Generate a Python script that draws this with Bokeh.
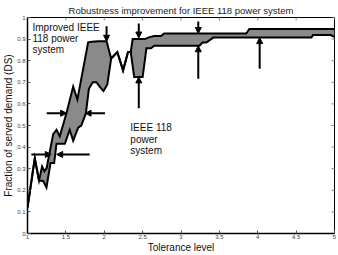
import math
from bokeh.plotting import figure
from bokeh.models import Range1d, FixedTicker, Arrow, NormalHead, Label
from bokeh.embed import file_html
from bokeh.resources import INLINE

FONT = "Liberation Sans"

# ---- data ----
upper_x = [1.0, 1.095, 1.15, 1.19, 1.22, 1.25, 1.28, 1.335, 1.378, 1.42, 1.465, 1.51,
           1.595, 1.65, 1.79, 1.84, 1.92, 2.03, 2.09, 2.17, 2.245, 2.31, 2.345, 2.37,
           2.53, 2.57, 2.65, 2.74, 2.78, 3.85, 3.89, 5.0]
upper_y = [0.12, 0.348, 0.245, 0.31, 0.288, 0.303, 0.36, 0.46, 0.48, 0.45, 0.505, 0.56,
           0.68, 0.62, 0.885, 0.888, 0.89, 0.89, 0.81, 0.84, 0.755, 0.84, 0.84, 0.90,
           0.90, 0.907, 0.914, 0.914, 0.926, 0.926, 0.947, 0.947]

lower_x = [1.0, 1.095, 1.15, 1.204, 1.247, 1.30, 1.347, 1.378, 1.486, 1.55, 1.595, 1.66,
           1.70, 1.76, 1.80, 1.85, 1.90, 1.94, 1.99, 2.04, 2.09, 2.17, 2.245, 2.31, 2.345,
           2.39, 2.50, 2.55, 2.61, 2.65, 3.24, 3.28, 3.33, 3.42, 4.70, 4.72, 4.95, 5.0]
lower_y = [0.12, 0.348, 0.245, 0.243, 0.213, 0.326, 0.326, 0.415, 0.415, 0.48, 0.43, 0.49,
           0.50, 0.556, 0.67, 0.70, 0.70, 0.68, 0.66, 0.69, 0.81, 0.84, 0.755, 0.84, 0.84,
           0.725, 0.725, 0.858, 0.858, 0.869, 0.869, 0.884, 0.884, 0.907, 0.907, 0.919, 0.919, 0.91]

# arrows: (x_start, y_start, x_end, y_end)
arrow_x0 = [1.05, 1.81, 1.25, 2.01, 2.03, 2.45, 2.45, 3.225, 3.225, 4.025]
arrow_y0 = [0.366, 0.366, 0.557, 0.557, 0.96, 0.972, 0.58, 0.982, 0.717, 0.763]
arrow_x1 = [1.31, 1.38, 1.51, 1.75, 2.03, 2.45, 2.45, 3.225, 3.225, 4.025]
arrow_y1 = [0.366, 0.366, 0.557, 0.557, 0.89, 0.905, 0.725, 0.926, 0.869, 0.907]

x_ticks = [1, 1.5, 2, 2.5, 3, 3.5, 4, 4.5, 5]
x_tick_labels = ["1", "1.5", "2", "2.5", "3", "3.5", "4", "4.5", "5"]
y_ticks = [0, 0.1, 0.2, 0.3, 0.4, 0.5, 0.6, 0.7, 0.8, 0.9, 1.0]
y_tick_labels = ["0", "0.1", "0.2", "0.3", "0.4", "0.5", "0.6", "0.7", "0.8", "0.9", "1"]

improved_label = ["Improved IEEE", "118 power", "system"]
base_label = ["IEEE 118", "power", "system"]

X_MIN, X_MAX = 1, 5
Y_MIN, Y_MAX = 0, 1

# ---- figure ----
p = figure(width=338, height=255, output_backend="svg", toolbar_location=None,
           x_range=Range1d(X_MIN, X_MAX), y_range=Range1d(Y_MIN, Y_MAX),
           title="Robustness improvement for IEEE 118 power system",
           min_border_left=2, min_border_right=4, min_border_top=2, min_border_bottom=2)
p.background_fill_color = "white"
p.border_fill_color = "white"
p.grid.visible = False
p.outline_line_color = "black"
p.outline_line_width = 1

p.title.align = "center"
p.title.text_font = FONT
p.title.text_font_size = "9.5px"
p.title.text_font_style = "normal"
p.title.text_color = "#222222"
p.title.standoff = 4

for ax in p.xaxis:
    ax.ticker = FixedTicker(ticks=x_ticks)
    ax.major_label_overrides = {t: l for t, l in zip(x_ticks, x_tick_labels)}
    ax.axis_label = "Tolerance level"
    ax.axis_label_standoff = 0
    ax.major_label_standoff = 1
for ax in p.yaxis:
    ax.ticker = FixedTicker(ticks=y_ticks)
    ax.major_label_overrides = {t: l for t, l in zip(y_ticks, y_tick_labels)}
    ax.axis_label = "Fraction of served demand (DS)"
    ax.axis_label_standoff = 0
    ax.major_label_standoff = 2

for ax in p.xaxis + p.yaxis:
    ax.axis_label_text_font = FONT
    ax.axis_label_text_font_size = "10px"
    ax.axis_label_text_font_style = "normal"
    ax.axis_label_text_color = "#111111"
    ax.major_label_text_font = FONT
    ax.major_label_text_font_size = "6px"
    ax.major_label_text_color = "#444444"
    ax.major_tick_in = 3
    ax.major_tick_out = 0
    ax.major_tick_line_color = "#555555"
    ax.minor_tick_line_color = None
    ax.axis_line_color = "black"
    ax.axis_line_width = 1.5

# mirrored ticks on the top and right edges of the box (clipped to the frame)
p.scatter([t for t in x_ticks], [Y_MAX] * len(x_ticks), marker="dash", size=6,
          angle=math.pi / 2, line_color="#888888", line_width=1)
p.scatter([X_MAX] * len(y_ticks), [t for t in y_ticks], marker="dash", size=6,
          angle=0, line_color="#888888", line_width=1)

# shaded region between the two curves
patch_x = upper_x + lower_x[::-1]
patch_y = upper_y + lower_y[::-1]
p.patch(patch_x, patch_y, fill_color="#8a8a8a", line_color=None)

p.line(upper_x, upper_y, line_color="black", line_width=2, line_join="miter")
p.line(lower_x, lower_y, line_color="black", line_width=2, line_join="miter")

for x0, y0, x1, y1 in zip(arrow_x0, arrow_y0, arrow_x1, arrow_y1):
    p.add_layout(Arrow(x_start=x0, y_start=y0, x_end=x1, y_end=y1, line_width=2,
                       line_color="black",
                       end=NormalHead(size=6, fill_color="black", line_color="black",
                                      line_width=1)))

for i, t in enumerate(improved_label):
    p.add_layout(Label(x=1.065, y=0.952 - i * 0.05, text=t, text_font=FONT,
                       text_font_size="10px", text_baseline="middle",
                       text_color="#111111"))
for i, t in enumerate(base_label):
    p.add_layout(Label(x=2.34, y=0.489 - i * 0.052, text=t, text_font=FONT,
                       text_font_size="10px", text_baseline="middle",
                       text_color="#111111"))

open("out.html", "w").write(file_html(p, INLINE))
